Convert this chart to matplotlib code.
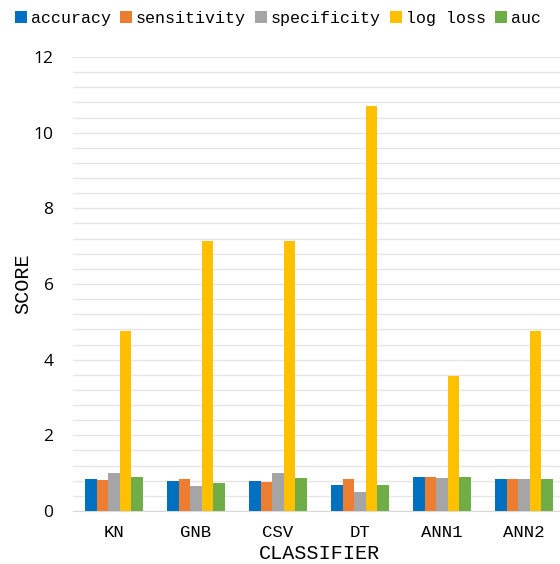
import numpy as np
import matplotlib
matplotlib.use("Agg")
import matplotlib.pyplot as plt
from matplotlib.patches import Patch

classifiers = ["KN", "GNB", "CSV", "DT", "ANN1", "ANN2"]
metrics = ["accuracy", "sensitivity", "specificity", "log loss", "auc"]
accuracy = [0.85, 0.78, 0.78, 0.68, 0.89, 0.85]
sensitivity = [0.82, 0.84, 0.77, 0.85, 0.89, 0.85]
specificity = [1.00, 0.66, 1.00, 0.50, 0.87, 0.85]
log_loss = [4.76, 7.14, 7.14, 10.70, 3.57, 4.76]
auc = [0.91, 0.75, 0.87, 0.68, 0.89, 0.85]
colors = ["#0070c0", "#ed7d31", "#a5a5a5", "#ffc000", "#70ad47"]

series = [accuracy, sensitivity, specificity, log_loss, auc]

fig = plt.figure(figsize=(5.6, 5.64), dpi=100)
# plot area runs a bit past the right edge of the figure
ax = fig.add_axes([73 / 560, 53 / 564, 492 / 560, 454 / 564])

x = np.arange(len(classifiers))
w = 0.142
for i, (vals, c) in enumerate(zip(series, colors)):
    ax.bar(x + (i - 2) * w, vals, w, color=c, zorder=3)

ax.set_xlim(-0.5, len(classifiers) - 0.5)
ax.set_ylim(0, 12)
ax.set_yticks(np.arange(0, 13, 2))
ax.set_yticks(np.arange(0, 12.01, 0.4), minor=True)
ax.grid(axis="y", which="both", color="#e6e6e6", linewidth=1, zorder=0)
ax.tick_params(axis="both", which="both", length=0)
ax.tick_params(axis="y", pad=14)
ax.tick_params(axis="x", pad=10)
for s in ["top", "right", "left"]:
    ax.spines[s].set_visible(False)
ax.spines["bottom"].set_color("#d9d9d9")

ax.set_xticks(x)
ax.set_xticklabels(classifiers, family="Liberation Mono", fontsize=12.5)
for lab in ax.get_yticklabels():
    lab.set_family("Open Sans")
    lab.set_fontsize(12.5)

ax.set_xlabel("CLASSIFIER", family="Liberation Mono", fontsize=14.5, labelpad=3)
ax.set_ylabel("SCORE", family="Liberation Mono", fontsize=14.5, labelpad=1)

handles = [Patch(facecolor=c, edgecolor="none") for c in colors]
fig.legend(handles, metrics, loc="center left", bbox_to_anchor=(0.015, 0.968),
           ncol=5, frameon=False, handlelength=0.7, handleheight=0.7,
           handletextpad=0.25, columnspacing=0.55, borderaxespad=0,
           prop={"family": "Liberation Mono", "size": 12})

fig.savefig("out.png", dpi=100)
